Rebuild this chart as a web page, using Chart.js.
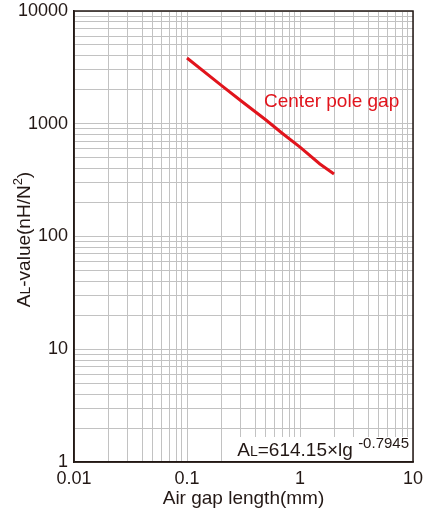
<!DOCTYPE html>
<html lang="en">
<head>
<meta charset="UTF-8">
<title>AL-value vs Air gap length</title>
<script src="https://cdn.jsdelivr.net/npm/chart.js"></script>
<style>
    body { margin: 0; background: #fff; }
    #wrap { width: 425px; height: 512px; }
</style>
</head>
<body>
<div id="wrap"><canvas id="grafico"></canvas></div>
<script>
    // valores
    const gapMm = [0.1, 0.2, 0.3, 0.5, 0.7, 1, 1.5, 2];
    const alValue = [3830, 2200, 1600, 1080, 820, 620, 440, 358];
    const xTicks = [0.01, 0.1, 1, 10];
    const yTicks = [1, 10, 100, 1000, 10000];

    const FONTE = '"Liberation Sans", Arial, sans-serif';
    const ESCURO = '#231815';
    const VERMELHO = '#e1141c';

    function logTicks(lista) {
        var saida = [];
        for (var i = 0; i < lista.length - 1; i++) {
            for (var m = 1; m <= 9; m++) {
                saida.push({ value: Number((m * lista[i]).toPrecision(4)) });
            }
        }
        saida.push({ value: lista[lista.length - 1] });
        return saida;
    }

    // desenha texto em pedacos (tamanho e deslocamento diferentes)
    function pedacos(ctx, partes, x, y, alinhar) {
        var total = 0;
        partes.forEach(function (p) {
            ctx.font = p.size + 'px ' + FONTE;
            p.w = ctx.measureText(p.t).width;
            total += p.w;
        });
        var cx = alinhar === 'center' ? x - total / 2 : (alinhar === 'right' ? x - total : x);
        ctx.textAlign = 'left';
        ctx.textBaseline = 'alphabetic';
        partes.forEach(function (p) {
            ctx.font = p.size + 'px ' + FONTE;
            ctx.fillText(p.t, cx, y + (p.dy || 0));
            cx += p.w;
        });
        return total;
    }

    const extras = {
        id: 'extras',
        afterDraw: function (chart) {
            var ctx = chart.ctx;
            var a = chart.chartArea;
            ctx.save();

            // moldura
            ctx.strokeStyle = ESCURO;
            ctx.lineWidth = 1.5;
            ctx.strokeRect(a.left, a.top, a.right - a.left, a.bottom - a.top);

            // nome da curva
            ctx.fillStyle = VERMELHO;
            ctx.font = '19px ' + FONTE;
            ctx.textAlign = 'left';
            ctx.textBaseline = 'alphabetic';
            ctx.fillText('Center pole gap', 264, 107);

            // formula
            ctx.fillStyle = '#fff';
            ctx.fillRect(232, 437, a.right - 233, 24);
            ctx.fillStyle = ESCURO;
            pedacos(ctx, [
                { t: 'A', size: 19 },
                { t: 'L', size: 14 },
                { t: '=614.15×lg ', size: 19 },
                { t: '-0.7945', size: 15, dy: -8 }
            ], 409, 456, 'right');

            // titulo x
            pedacos(ctx, [{ t: 'Air gap length(mm)', size: 19 }], (a.left + a.right) / 2, 504, 'center');

            // titulo y
            ctx.translate(30, (a.top + a.bottom) / 2 + 3);
            ctx.rotate(-Math.PI / 2);
            pedacos(ctx, [
                { t: 'A', size: 19 },
                { t: 'L', size: 14 },
                { t: '-value(nH/N', size: 19 },
                { t: '2', size: 13, dy: -8 },
                { t: ')', size: 19 }
            ], 0, 0, 'center');
            ctx.restore();
        }
    };

    const ctx = document.getElementById('grafico');

    new Chart(ctx, {
        type: 'line',
        data: {
            datasets: [{
                label: 'Center pole gap',
                data: gapMm.map(function (x, i) { return { x: x, y: alValue[i] }; }),
                borderColor: VERMELHO,
                borderWidth: 3,
                pointRadius: 0,
                fill: false,
                tension: 0
            }]
        },
        options: {
            responsive: true,
            maintainAspectRatio: false,
            animation: false,
            layout: { padding: { top: 11, right: 12, left: 0, bottom: 0 } },
            scales: {
                x: {
                    type: 'logarithmic',
                    min: 0.01,
                    max: 10,
                    afterBuildTicks: function (s) { s.ticks = logTicks(xTicks); },
                    afterFit: function (s) { s.height = 50; s.paddingRight = 0; s.paddingLeft = 0; },
                    ticks: {
                        autoSkip: false,
                        maxRotation: 0,
                        padding: 6,
                        color: ESCURO,
                        font: { size: 18, family: FONTE },
                        callback: function (v) { return xTicks.indexOf(v) >= 0 ? String(v) : ''; }
                    },
                    grid: { color: '#c2c2c2', lineWidth: 1, drawTicks: false },
                    border: { color: ESCURO, width: 1.5 }
                },
                y: {
                    type: 'logarithmic',
                    min: 1,
                    max: 10000,
                    afterBuildTicks: function (s) { s.ticks = logTicks(yTicks); },
                    afterFit: function (s) { s.width = 74; s.paddingTop = 0; s.paddingBottom = 0; },
                    ticks: {
                        autoSkip: false,
                        padding: 6,
                        color: ESCURO,
                        font: { size: 18, family: FONTE },
                        callback: function (v) { return yTicks.indexOf(v) >= 0 ? String(v) : ''; }
                    },
                    grid: { color: '#c2c2c2', lineWidth: 1, drawTicks: false },
                    border: { color: ESCURO, width: 1.5 }
                }
            },
            plugins: {
                legend: { display: false },
                tooltip: { enabled: false }
            }
        },
        plugins: [extras]
    });
</script>
</body>
</html>
